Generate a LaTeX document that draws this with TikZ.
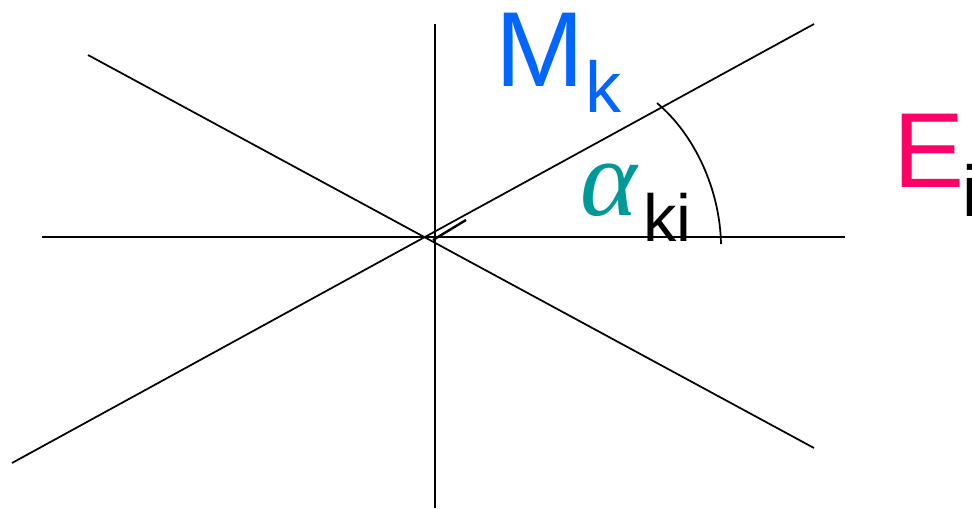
\documentclass[tikz,border=0pt]{standalone}
\usepackage{fontspec}
\setmainfont{Liberation Sans}
\newfontfamily\grkfont[FakeSlant=0.15]{Liberation Serif}
\definecolor{mblue}{HTML}{0066FF}
\definecolor{epink}{HTML}{FF0066}
\definecolor{ateal}{HTML}{009999}
\begin{document}
\begin{tikzpicture}[x=0.75pt,y=-0.75pt,
  ln/.style={line width=1.3pt,black},
  lbl/.style={inner sep=0pt,anchor=base west}]
\useasboundingbox (0,0) rectangle (972,508);
% end points
\coordinate (hL) at (42,237);
\coordinate (hR) at (845,237);
\coordinate (vT) at (435,24);
\coordinate (vB) at (435,508);
\coordinate (d1a) at (88,55);
\coordinate (d1b) at (814,448);
\coordinate (d2a) at (12,463);
\coordinate (d2b) at (814,24);
\coordinate (c0) at (433,240);
\coordinate (c1) at (466,220);
\coordinate (arcS) at (657,103);
\coordinate (arcE) at (721,244);
\draw[ln] (hL) -- (hR);
\draw[ln] (vT) -- (vB);
\draw[ln] (d1a) -- (d1b);
\draw[ln] (d2a) -- (d2b);
\draw[line width=1.8pt] (c0) -- (c1);
\draw[ln] (arcS) .. controls (695,135) and (720,190) .. (arcE);
% labels
\node[lbl,text=mblue,font=\fontsize{80}{80}\selectfont] (M) at (495,86) {M};
\node[lbl,font=\fontsize{54}{54}\selectfont,text=mblue] (k) at (585,112) {k};
\node[lbl,text=epink,font=\fontsize{80}{80}\selectfont] (E) at (893,187) {E};
\node[lbl,font=\fontsize{54}{54}\selectfont,text=black] (i) at (962,216) {i};
\node[lbl,text=ateal,font=\grkfont\fontsize{82}{82}\selectfont] (a) at (576,215) {α};
\node[lbl,font=\fontsize{50}{50}\selectfont] (ki) at (643,241) {ki};
\end{tikzpicture}
\end{document}
